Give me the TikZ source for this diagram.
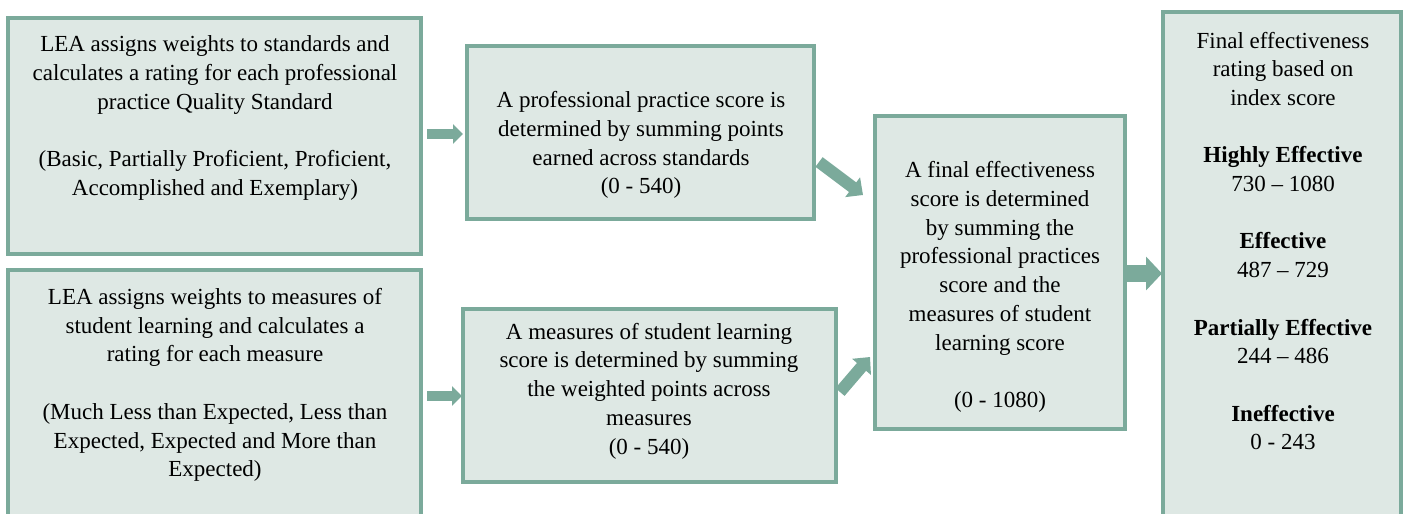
\documentclass[tikz,border=0pt]{standalone}
\usepackage{fontspec}
\setmainfont{Liberation Serif}
\usetikzlibrary{arrows.meta}
\definecolor{boxfill}{HTML}{DEE8E4}
\definecolor{boxline}{HTML}{7BAA9B}
\tikzset{
  box/.style={draw=boxline, fill=boxfill, line width=3.5pt, inner sep=0pt, rectangle},
  txt/.style={align=center, inner sep=0pt, font={\fontsize{23}{28.7}\selectfont}, text=black},
  smallarrow/.style={draw=boxline, line width=10pt, -{Triangle[length=10pt,width=19pt]}},
  diagarrow/.style={draw=boxline, line width=12pt, -{Triangle[length=13pt,width=24pt]}},
  bigarrow/.style={draw=boxline, line width=17pt, -{Triangle[length=16pt,width=33pt]}}
}
\begin{document}
\begin{tikzpicture}[x=1pt,y=-1pt]
\useasboundingbox (0,0) rectangle (1403,514);
\clip (0,0) rectangle (1403,514);
% boxes
\node[box, minimum width=413pt, minimum height=236pt] (b1) at (214.5,136) {};
\node[box, minimum width=413pt, minimum height=270pt] (b2) at (214.5,405) {};
\node[box, minimum width=347pt, minimum height=173pt] (b3) at (640.5,132.5) {};
\node[box, minimum width=373pt, minimum height=173pt] (b4) at (649.5,395.5) {};
\node[box, minimum width=250pt, minimum height=313pt] (b5) at (1000,272.5) {};
\node[box, minimum width=238pt, minimum height=528pt] (b6) at (1282,276) {};
% texts
\node[txt] (t1) at (215,118) {LEA assigns weights to standards and\\calculates a rating for each professional\\practice Quality Standard\\[\baselineskip](Basic, Partially Proficient, Proficient,\\Accomplished and Exemplary)};
\node[txt] (t2) at (215,385) {LEA assigns weights to measures of\\student learning and calculates a\\rating for each measure\\[\baselineskip](Much Less than Expected, Less than\\Expected, Expected and More than\\Expected)};
\node[txt] (t3) at (641,145) {A professional practice score is\\determined by summing points\\earned across standards\\(0 - 540)};
\node[txt] (t4) at (649,391) {A measures of student learning\\score is determined by summing\\the weighted points across\\measures\\(0 - 540)};
\node[txt] (t5) at (1000,287) {A final effectiveness\\score is determined\\by summing the\\professional practices\\score and the\\measures of student\\learning score\\[\baselineskip](0 - 1080)};
\node[txt] (t6) at (1283,241) {Final effectiveness\\rating based on\\index score\\[\baselineskip]\textbf{Highly Effective}\\730 -- 1080\\[\baselineskip]\textbf{Effective}\\487 -- 729\\[\baselineskip]\textbf{Partially Effective}\\244 -- 486\\[\baselineskip]\textbf{Ineffective}\\0 - 243};
% arrow ends
\coordinate (a1s) at (427,134);
\coordinate (a1e) at (463,134);
\coordinate (a2s) at (819,162);
\coordinate (a2e) at (863,195);
\coordinate (a3s) at (840,392);
\coordinate (a3e) at (870,357);
\coordinate (a4s) at (1123,273.5);
\coordinate (a4e) at (1162,273.5);
\coordinate (a5s) at (427,396);
\coordinate (a5e) at (462,396);
\draw[smallarrow] (a1s) -- (a1e);
\draw[smallarrow] (a5s) -- (a5e);
\draw[diagarrow] (a2s) -- (a2e);
\draw[diagarrow] (a3s) -- (a3e);
\draw[bigarrow] (a4s) -- (a4e);
\end{tikzpicture}
\end{document}
